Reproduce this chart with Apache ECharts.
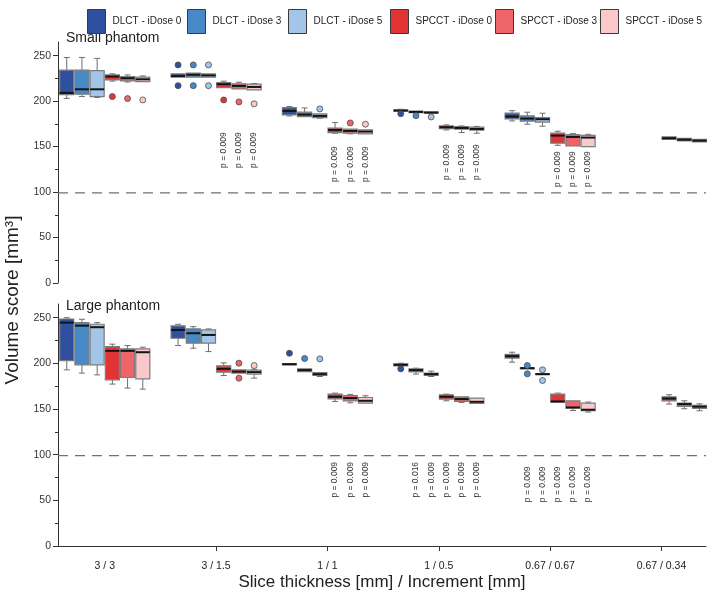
<!DOCTYPE html>
<html>
<head>
<meta charset="utf-8">
<script src="https://cdn.jsdelivr.net/npm/echarts@6/dist/echarts.min.js"></script>
<style>html,body{margin:0;padding:0;background:#fff}#c{width:708px;height:601px}</style>
</head>
<body>
<div id="c"></div>
<script>
// ---------------- data ----------------
const categories = ['3 / 3', '3 / 1.5', '1 / 1', '1 / 0.5', '0.67 / 0.67', '0.67 / 0.34'];
const seriesNames = ['DLCT - iDose 0', 'DLCT - iDose 3', 'DLCT - iDose 5', 'SPCCT - iDose 0', 'SPCCT - iDose 3', 'SPCCT - iDose 5'];
const yTickValues = [0, 50, 100, 150, 200, 250];
const yMinorTickValues = [25, 75, 125, 175, 225];
const referenceVolume = 99;

// box statistics per slice setting: [min, Q1, median, Q3, max]; null = not available
const small_DLCT_iDose0 = [[203, 207, 209, 234, 248], [226.3, 226.3, 227.7, 230, 230], [183.7, 184.8, 189.2, 192.9, 194], [188.9, 188.9, 189.6, 190.3, 191], [178.2, 180.4, 183, 186.7, 189.5], null];
const small_DLCT_iDose3 = [[205, 207.6, 213, 234, 248], [226.3, 226.3, 229, 230.7, 230.7], [183, 183, 185.2, 187.8, 192.5], [187.3, 187.3, 188.1, 188.9, 188.9], [174.6, 177.9, 180.8, 183.7, 187.8], null];
const small_DLCT_iDose5 = [[204, 205, 213, 233.6, 247], [226.3, 226.3, 228.3, 230, 230], [181.2, 181.9, 183.7, 186, 186], [186.7, 186.7, 187.4, 188.1, 188.1], [172.4, 176.8, 180.1, 181.9, 186.7], null];
const small_SPCCT_iDose0 = [[222, 223.3, 227, 228.8, 230], [214.9, 214.9, 218.6, 220.4, 221.9], [164.7, 165.3, 168.3, 170.2, 176.4], [168.3, 169.8, 171.3, 172.7, 173.8], [151.4, 153.7, 162.1, 164.7, 166.9], [157.4, 157.9, 159.2, 160.7, 161.1]];
const small_SPCCT_iDose3 = [[221, 222.2, 225.2, 227, 228.8], [213.4, 213.4, 216.7, 219, 220.8], [164, 164.7, 167.2, 169.1, 169.1], [165.4, 169.1, 170.5, 172, 172.7], [150.5, 150.7, 160.6, 163.1, 164.2], [155.9, 156.3, 157.6, 159, 159.4]];
const small_SPCCT_iDose5 = [[221, 221.5, 224, 226.3, 227.7], [212.3, 212.3, 215.6, 218.6, 219.3], [163.6, 164, 166.5, 168.3, 168.3], [164.7, 168, 169.4, 171.3, 172.2], [150, 150, 159.9, 162.4, 163.5], [154.9, 155.2, 156.5, 157.9, 158.2]];

const large_DLCT_iDose0 = [[192.9, 203, 244.6, 248.6, 250], [219.5, 227.5, 236.6, 241, 242.8], [198.4, 198.4, 199.1, 199.8, 199.8], [197.3, 197.3, 198.4, 199.5, 200.2], [201.3, 205.7, 207.9, 210, 212.2], null];
const large_DLCT_iDose3 = [[189.3, 198.4, 241.3, 244.6, 248.3], [216.6, 222.1, 233, 237.7, 240.2], [191, 191, 192.6, 194, 194], [188.2, 190.7, 192.6, 194, 194.7], [193.9, 193.9, 194.8, 195, 195], null];
const large_DLCT_iDose5 = [[187.4, 198.4, 239.6, 242.8, 244.6], [212.9, 222.1, 231.1, 236.6, 237.7], [185.6, 186.7, 188.2, 190, 190], [185.6, 186.7, 188.2, 189.3, 191.5], [187.7, 187.7, 188.2, 188.7, 188.7], null];
const large_SPCCT_iDose0 = [[177.3, 182, 213.7, 218.4, 221], [186.7, 190.4, 194, 197.3, 200.5], [158.3, 161.2, 163.4, 166.3, 167.4], [159, 160.9, 163.4, 165.6, 166.3], [157.2, 157.6, 158.3, 166.3, 167.4], [155.4, 159, 161.5, 163.4, 165.6]];
const large_SPCCT_iDose3 = [[172.9, 184.5, 213.7, 215.8, 219.5], [189.3, 189.3, 191, 192.9, 192.9], [156.8, 159, 162, 164.8, 166], [157.2, 158.3, 160.9, 163.4, 163.4], [148.4, 151, 151.7, 159, 159], [150.3, 152.8, 155.4, 156.5, 159]];
const large_SPCCT_iDose5 = [[171.8, 183.1, 212.2, 215.8, 217.7], [183.8, 188.2, 190.4, 192.6, 193.5], [156.5, 156.5, 159, 162.6, 164.5], [156.1, 156.1, 157.9, 162, 162], [146.7, 148.1, 149.2, 156.5, 157.6], [148.1, 150.6, 152.5, 153.9, 155.7]];

// outliers: [slice index, series index, value]
const smallOutliers = [[0, 3, 205], [0, 4, 202.8], [0, 5, 201.3],
  [1, 0, 239.8], [1, 0, 217], [1, 1, 239.8], [1, 1, 217], [1, 2, 239.8], [1, 2, 217], [1, 3, 201.3], [1, 4, 199.1], [1, 5, 197],
  [2, 2, 191.4], [2, 4, 176], [2, 5, 174.6],
  [3, 0, 186.2], [3, 1, 184], [3, 2, 182.6]];
const largeOutliers = [[1, 4, 200.2], [1, 4, 183.8], [1, 5, 197.6],
  [2, 0, 211.1], [2, 1, 205.3], [2, 2, 204.9],
  [3, 0, 194],
  [4, 1, 197.6], [4, 1, 188.5], [4, 2, 192.9], [4, 2, 181.2]];

// p-values: [slice index, series index, text]
const smallPValues = [[1, 3, 'p = 0.009'], [1, 4, 'p = 0.009'], [1, 5, 'p = 0.009'],
  [2, 3, 'p = 0.009'], [2, 4, 'p = 0.009'], [2, 5, 'p = 0.009'],
  [3, 3, 'p = 0.009'], [3, 4, 'p = 0.009'], [3, 5, 'p = 0.009'],
  [4, 3, 'p = 0.009'], [4, 4, 'p = 0.009'], [4, 5, 'p = 0.009']];
const largePValues = [[2, 3, 'p = 0.009'], [2, 4, 'p = 0.009'], [2, 5, 'p = 0.009'],
  [3, 1, 'p = 0.016'], [3, 2, 'p = 0.009'], [3, 3, 'p = 0.009'], [3, 4, 'p = 0.009'], [3, 5, 'p = 0.009'],
  [4, 1, 'p = 0.009'], [4, 2, 'p = 0.009'], [4, 3, 'p = 0.009'], [4, 4, 'p = 0.009'], [4, 5, 'p = 0.009']];
// value (mm³ scale) where each slice group's p-value labels start
const smallPLabelBase = [null, 126.5, 111, 113.3, 105.6, null];
const largePLabelBase = [null, null, 53, 53, 48, null];

// ---------------- styling / layout ----------------
const seriesColors = ['#2f4f9f', '#4788c7', '#a3c6e8', '#e23434', '#ee6468', '#f9c9cc'];
const legendLefts = [82, 182, 283, 385, 490, 595];
const sans = "'Liberation Sans', Arial, sans-serif";
const X_MIN = 0.58, X_MAX = 6.4;
const boxStep = 0.1366, boxHalf = 0.063, capHalfPx = 3;
function xPos(c, s) { return c + 1 + (s - 2.5) * boxStep; }

function renderBox(params, api) {
  const x = api.value(0);
  const mn = api.value(1), q1 = api.value(2), md = api.value(3), q3 = api.value(4), mx = api.value(5);
  const tl = api.coord([x - boxHalf, q3]);
  const br = api.coord([x + boxHalf, q1]);
  const cx = api.coord([x, md])[0];
  const yMed = api.coord([x, md])[1];
  const yMin = api.coord([x, mn])[1];
  const yMax = api.coord([x, mx])[1];
  const color = api.visual('color');
  const wStyle = { stroke: '#6e6e6e', lineWidth: 1 };
  const children = [];
  if (yMax < tl[1] - 0.5) {
    children.push({ type: 'line', shape: { x1: cx, y1: yMax, x2: cx, y2: tl[1] }, style: wStyle });
    children.push({ type: 'line', shape: { x1: cx - capHalfPx, y1: yMax, x2: cx + capHalfPx, y2: yMax }, style: wStyle });
  }
  if (yMin > br[1] + 0.5) {
    children.push({ type: 'line', shape: { x1: cx, y1: br[1], x2: cx, y2: yMin }, style: wStyle });
    children.push({ type: 'line', shape: { x1: cx - capHalfPx, y1: yMin, x2: cx + capHalfPx, y2: yMin }, style: wStyle });
  }
  children.push({ type: 'rect', shape: { x: tl[0], y: tl[1], width: br[0] - tl[0], height: Math.max(br[1] - tl[1], 0.5) },
    style: { fill: color, stroke: '#7c7c7c', lineWidth: 1.2 } });
  children.push({ type: 'line', shape: { x1: tl[0], y1: yMed, x2: br[0], y2: yMed }, style: { stroke: '#141414', lineWidth: 2 } });
  return { type: 'group', children };
}

const panels = [
  { boxes: [small_DLCT_iDose0, small_DLCT_iDose3, small_DLCT_iDose5, small_SPCCT_iDose0, small_SPCCT_iDose3, small_SPCCT_iDose5],
    outliers: smallOutliers, pValues: smallPValues, pBase: smallPLabelBase },
  { boxes: [large_DLCT_iDose0, large_DLCT_iDose3, large_DLCT_iDose5, large_SPCCT_iDose0, large_SPCCT_iDose3, large_SPCCT_iDose5],
    outliers: largeOutliers, pValues: largePValues, pBase: largePLabelBase }
];

const series = [];
panels.forEach((p, gi) => {
  p.boxes.forEach((arr, s) => {
    const data = [];
    arr.forEach((b, c) => { if (b) data.push([xPos(c, s)].concat(b)); });
    series.push({ type: 'custom', name: seriesNames[s], xAxisIndex: gi, yAxisIndex: gi * 2,
      itemStyle: { color: seriesColors[s] }, renderItem: renderBox,
      encode: { x: 0, y: [1, 2, 3, 4, 5] }, data, z: 3, silent: true, animation: false });
  });
});
panels.forEach((p, gi) => {
  for (let s = 0; s < 6; s++) {
    const data = p.outliers.filter(o => o[1] === s).map(o => [xPos(o[0], s), o[2]]);
    series.push({ type: 'scatter', name: seriesNames[s], xAxisIndex: gi, yAxisIndex: gi * 2,
      symbol: 'circle', symbolSize: 6, data, z: 4, silent: true, animation: false,
      itemStyle: { color: seriesColors[s], borderColor: '#4a4a4a', borderWidth: 0.8, opacity: 1 } });
  }
  series.push({ type: 'line', name: 'reference', xAxisIndex: gi, yAxisIndex: gi * 2,
    data: [[X_MIN, referenceVolume], [X_MAX, referenceVolume]], showSymbol: false, symbol: 'none',
    lineStyle: { type: [10, 7], color: '#707070', width: 1.3 }, z: 1, silent: true, animation: false });
  const labels = p.pValues;
  series.push({ type: 'custom', name: 'pvalues', xAxisIndex: gi, yAxisIndex: gi * 2, silent: true, z: 5, animation: false,
    data: labels.map(l => [xPos(l[0], l[1]), p.pBase[l[0]]]),
    renderItem: (params, api) => {
      const pt = api.coord([api.value(0), api.value(1)]);
      return { type: 'text', x: pt[0], y: pt[1], rotation: Math.PI / 2,
        style: { text: labels[params.dataIndex][2], fontSize: 8.5, fontFamily: sans, fill: '#333', align: 'left', verticalAlign: 'middle' } };
    } });
});

function yAxisPair(gi) {
  return [
    { gridIndex: gi, type: 'value', min: 0, max: 265,
      axisLine: { show: true, lineStyle: { color: '#333', width: 1 } },
      axisTick: { show: true, customValues: yTickValues, length: 5, lineStyle: { color: '#333' } },
      axisLabel: { customValues: yTickValues, fontSize: 10.5, fontFamily: sans, color: '#333', margin: 7 },
      splitLine: { show: false } },
    { gridIndex: gi, type: 'value', min: 0, max: 265, position: 'left',
      axisLine: { show: false },
      axisTick: { show: true, customValues: yMinorTickValues, length: 3, lineStyle: { color: '#333' } },
      axisLabel: { show: false }, splitLine: { show: false } }
  ];
}

const option = {
  backgroundColor: '#fff',
  animation: false,
  legend: seriesNames.map((n, i) => ({
    data: [n], left: legendLefts[i], top: 4, icon: 'rect', itemWidth: 18, itemHeight: 24, itemGap: 0,
    itemStyle: { borderColor: '#3a3a3a', borderWidth: 1 },
    textStyle: { fontSize: 10, fontFamily: sans, color: '#222', padding: [0, 0, 0, 2] }, selectedMode: false
  })),
  grid: [
    { left: 58, width: 648, top: 42, height: 241 },
    { left: 58, width: 648, top: 304, height: 242 }
  ],
  xAxis: [
    { gridIndex: 0, type: 'value', min: X_MIN, max: X_MAX, show: false },
    { gridIndex: 1, type: 'value', min: X_MIN, max: X_MAX,
      axisLine: { show: true, lineStyle: { color: '#333', width: 1 } },
      axisTick: { show: true, customValues: [2, 3, 4, 5, 6], length: 5, lineStyle: { color: '#333' } },
      axisLabel: { customValues: [1, 2, 3, 4, 5, 6], formatter: v => categories[Math.round(v) - 1], fontSize: 10.5, fontFamily: sans, color: '#222', margin: 15 },
      splitLine: { show: false },
      name: 'Slice thickness [mm] / Increment [mm]', nameLocation: 'middle', nameGap: 28,
      nameTextStyle: { fontSize: 17, fontFamily: sans, color: '#222' } }
  ],
  yAxis: yAxisPair(0).concat(yAxisPair(1)),
  graphic: [
    { type: 'text', x: 13, y: 300, rotation: Math.PI / 2,
      style: { text: 'Volume score [mm³]', fontSize: 19, fontFamily: sans, fill: '#222', align: 'center', verticalAlign: 'middle' } },
    { type: 'text', x: 66, y: 38, style: { text: 'Small phantom', fontSize: 14, fontFamily: sans, fill: '#222', align: 'left', verticalAlign: 'middle' } },
    { type: 'text', x: 66, y: 306, style: { text: 'Large phantom', fontSize: 14, fontFamily: sans, fill: '#222', align: 'left', verticalAlign: 'middle' } }
  ],
  series
};
const chart = echarts.init(document.getElementById('c'));
chart.setOption(option);
</script>
</body>
</html>
